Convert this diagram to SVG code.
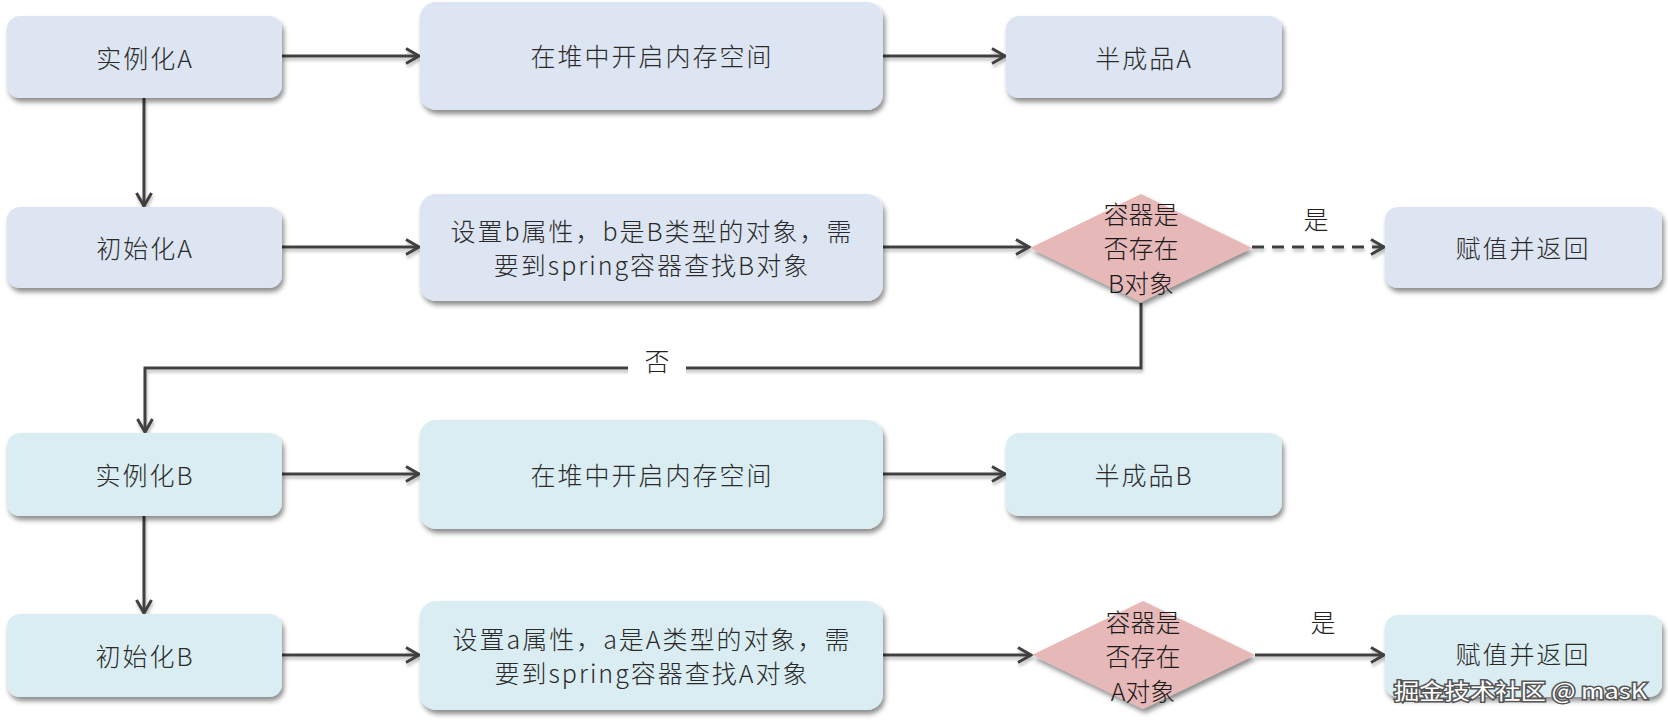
<svg xmlns="http://www.w3.org/2000/svg" width="1668" height="722" viewBox="0 0 1668 722">
<defs>
<filter id="sh" x="-10%" y="-20%" width="125%" height="150%">
<feDropShadow dx="2" dy="4" stdDeviation="2.5" flood-color="#000" flood-opacity="0.45"/>
</filter>
<filter id="lsh" x="-5%" y="-50%" width="110%" height="200%">
<feDropShadow dx="1" dy="3" stdDeviation="1.5" flood-color="#000" flood-opacity="0.25"/>
</filter>
<marker id="arr" markerUnits="userSpaceOnUse" markerWidth="18" markerHeight="20" refX="15" refY="9" orient="auto">
<path d="M2,1.5 L15,9 L2,16.5" fill="none" stroke="#404040" stroke-width="3" stroke-linejoin="miter"/>
</marker>
</defs>
<style>
.b1{fill:#dce5f1;filter:url(#sh)}
.b2{fill:#daedf2;filter:url(#sh)}
.dm{fill:#e6b8b8;filter:url(#sh)}
.t{font-family:"Noto Sans CJK SC","Noto Sans",sans-serif;font-weight:300;font-size:25px;fill:#2a2a2a;text-anchor:middle;dominant-baseline:central;letter-spacing:2px}
.td{font-family:"Noto Sans CJK SC","Noto Sans",sans-serif;font-weight:300;font-size:25px;fill:#1a1a1a;text-anchor:middle;dominant-baseline:central}
.lb{font-family:"Noto Sans CJK SC",sans-serif;font-weight:300;font-size:25px;fill:#222;text-anchor:middle;dominant-baseline:central}
.c{fill:none;stroke:#404040;stroke-width:3;marker-end:url(#arr)}
.wm{font-family:"Noto Sans CJK SC",sans-serif;font-size:22px;fill:#fff;stroke:#555;stroke-width:3;paint-order:stroke;dominant-baseline:central}
</style>
<rect width="1668" height="722" fill="#fff"/>

<g id="connectors" filter="url(#lsh)">
<path class="c" d="M282,56 H419"/>
<path class="c" d="M883,56 H1005"/>
<path class="c" d="M144,98 V206"/>
<path class="c" d="M282,247 H419"/>
<path class="c" d="M883,247 H1029"/>
<path class="c" d="M1252,247 H1384" stroke-dasharray="12 8"/>
<path class="c" d="M1141,303 V368 H145 V432"/>
<path class="c" d="M282,474 H419"/>
<path class="c" d="M883,474 H1005"/>
<path class="c" d="M144,516 V613"/>
<path class="c" d="M282,655 H419"/>
<path class="c" d="M883,655 H1031"/>
<path class="c" d="M1255,655 H1384"/>
</g>
<g id="labels">
<rect x="628" y="350" width="58" height="30" fill="#fff"/>
<text class="lb" x="657" y="360">否</text>
<text class="lb" x="1316" y="218">是</text>
<text class="lb" x="1323" y="621">是</text>
</g>

<g id="n_instA"><rect class="b1" x="7" y="16" width="275" height="82" rx="13"/><text class="t" x="145" y="57">实例化A</text></g>
<g id="n_heapA"><rect class="b1" x="420" y="2" width="463" height="108" rx="16"/><text class="t" x="652" y="55">在堆中开启内存空间</text></g>
<g id="n_halfA"><rect class="b1" x="1006" y="16" width="276" height="82" rx="13"/><text class="t" x="1144" y="57">半成品A</text></g>

<g id="n_initA"><rect class="b1" x="7" y="207" width="275" height="81" rx="13"/><text class="t" x="145" y="247">初始化A</text></g>
<g id="n_setB"><rect class="b1" x="420" y="194" width="463" height="107" rx="16"/><text class="t" x="652" y="230">设置b属性，b是B类型的对象，需</text><text class="t" x="652" y="264">要到spring容器查找B对象</text></g>
<g id="n_decB"><polygon class="dm" points="1141,194 1252,248 1141,302 1030,248"/><text class="td" x="1141" y="213">容器是</text><text class="td" x="1141" y="247">否存在</text><text class="td" x="1141" y="282">B对象</text></g>
<g id="n_retB"><rect class="b1" x="1385" y="207" width="277" height="81" rx="13"/><text class="t" x="1523" y="247">赋值并返回</text></g>

<g id="n_instB"><rect class="b2" x="7" y="433" width="275" height="83" rx="13"/><text class="t" x="145" y="474">实例化B</text></g>
<g id="n_heapB"><rect class="b2" x="420" y="420" width="463" height="109" rx="16"/><text class="t" x="652" y="474">在堆中开启内存空间</text></g>
<g id="n_halfB"><rect class="b2" x="1006" y="433" width="276" height="83" rx="13"/><text class="t" x="1144" y="474">半成品B</text></g>

<g id="n_initB"><rect class="b2" x="7" y="614" width="275" height="83" rx="13"/><text class="t" x="145" y="655">初始化B</text></g>
<g id="n_setA"><rect class="b2" x="420" y="601" width="463" height="109" rx="16"/><text class="t" x="652" y="638">设置a属性，a是A类型的对象，需</text><text class="t" x="652" y="672">要到spring容器查找A对象</text></g>
<g id="n_decA"><polygon class="dm" points="1143,601 1255,655 1143,709 1032,655"/><text class="td" x="1143" y="621">容器是</text><text class="td" x="1143" y="655">否存在</text><text class="td" x="1143" y="690">A对象</text></g>
<g id="n_retA"><rect class="b2" x="1385" y="615" width="277" height="82" rx="13"/><text class="t" x="1523" y="653">赋值并返回</text></g>

<text class="wm" x="1394" y="689" textLength="253" lengthAdjust="spacingAndGlyphs">掘金技术社区 @ masK</text>
</svg>
